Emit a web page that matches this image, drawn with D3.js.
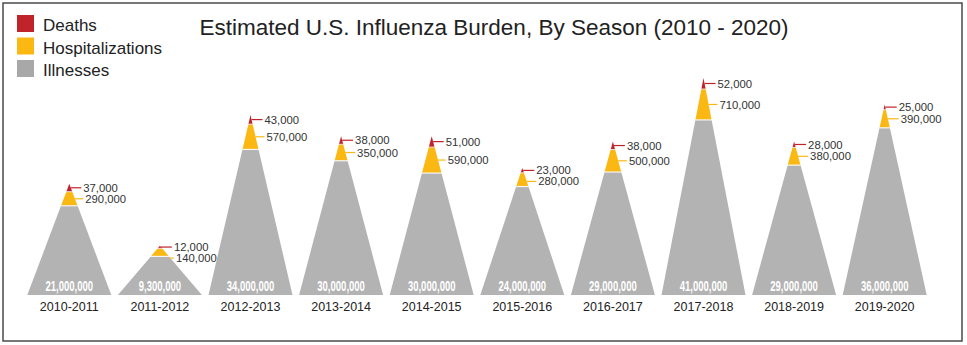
<!DOCTYPE html>
<html>
<head>
<meta charset="utf-8">
<script src="https://cdn.jsdelivr.net/npm/d3@7"></script>
<style>
  html, body { margin: 0; padding: 0; background: #fff; }
  svg { display: block; }
</style>
</head>
<body>
<svg id="chart" width="967" height="345"></svg>
<script>
const seasons = ["2010-2011","2011-2012","2012-2013","2013-2014","2014-2015","2015-2016","2016-2017","2017-2018","2018-2019","2019-2020"];
const illnesses = [21000000, 9300000, 34000000, 30000000, 30000000, 24000000, 29000000, 41000000, 29000000, 36000000];
const hospitalizations = [290000, 140000, 570000, 350000, 590000, 280000, 500000, 710000, 380000, 390000];
const deaths = [37000, 12000, 43000, 38000, 51000, 23000, 38000, 52000, 28000, 25000];
const legendLabels = ["Deaths", "Hospitalizations", "Illnesses"];
const titleText = "Estimated U.S. Influenza Burden, By Season (2010 - 2020)";

const colors = { death: "#c1232b", hosp: "#fbb813", ill: "#b3b3b3", illLegend: "#a8a8a8" };
const svg = d3.select("#chart");
const fontMain = "'Liberation Sans', Arial, Helvetica, sans-serif";

// frame
svg.append("rect").attr("x", 3).attr("y", 3).attr("width", 959).attr("height", 338)
  .attr("fill", "none").attr("stroke", "#4a4a4a").attr("stroke-width", 1.5);

// title
svg.append("text").attr("x", 494).attr("y", 35).attr("text-anchor", "middle")
  .attr("font-family", fontMain).attr("font-size", 22.5).attr("fill", "#222")
  .text(titleText);

// legend
const legColors = [colors.death, colors.hosp, colors.illLegend];
const leg = svg.append("g");
legendLabels.forEach((l, i) => {
  leg.append("rect").attr("x", 17).attr("y", 15 + i * 22.5).attr("width", 17).attr("height", 17).attr("fill", legColors[i]);
  leg.append("text").attr("x", 43).attr("y", 31 + i * 22.5)
    .attr("font-family", fontMain).attr("font-size", 17).attr("fill", "#222").text(l);
});

const baseY = 295;
const x = d3.scaleBand().domain(seasons).range([24, 930]);
const yTotal = d3.scaleLinear().domain([0, 41000000]).range([baseY, 78]);
const hHosp = d3.scaleLinear().domain([0, 710000]).range([2.5, 30.9]);
const hDeath = d3.scaleLinear().domain([0, 52000]).range([0, 11]);
const fmt = d3.format(",");
const halfBase = 42;

const g = svg.append("g");
seasons.forEach((s, i) => {
  const cx = x(s) + x.bandwidth() / 2;
  const yA = yTotal(illnesses[i]);
  const yR = yA + hDeath(deaths[i]);
  const yY = yR + hHosp(hospitalizations[i]);
  const half = y => halfBase * (y - yA) / (baseY - yA);
  const poly = pts => pts.map(p => p.join(",")).join(" ");

  g.append("polygon").attr("points", poly([[cx - halfBase, baseY], [cx + halfBase, baseY], [cx + half(yY), yY], [cx - half(yY), yY]]))
    .attr("fill", colors.ill);
  g.append("polygon").attr("points", poly([[cx - half(yY), yY], [cx + half(yY), yY], [cx + half(yR), yR], [cx - half(yR), yR]]))
    .attr("fill", colors.hosp);
  g.append("polygon").attr("points", poly([[cx - half(yR), yR], [cx + half(yR), yR], [cx, yA]]))
    .attr("fill", colors.death);
  // separators
  g.append("line").attr("x1", cx - half(yY) - 1).attr("x2", cx + half(yY) + 1).attr("y1", yY).attr("y2", yY)
    .attr("stroke", "#f4f4f4").attr("stroke-width", 1.2);
  if (yR - yA > 1.5) {
    g.append("line").attr("x1", cx - half(yR) - 1).attr("x2", cx + half(yR) + 1).attr("y1", yR).attr("y2", yR)
      .attr("stroke", "#f4f4f4").attr("stroke-width", 0.8);
  }

  // annotations
  const dY = (yA + yR) / 2;
  const hY = Math.max((yR + yY) / 2, dY + 11);
  g.append("line").attr("x1", cx + half(dY)).attr("x2", cx + 12).attr("y1", dY).attr("y2", dY)
    .attr("stroke", colors.death).attr("stroke-width", 1.2);
  g.append("text").attr("x", cx + 14).attr("y", dY).attr("dy", "0.36em")
    .attr("font-family", fontMain).attr("font-size", 11.3).attr("fill", "#333").text(fmt(deaths[i]));
  const hx = Math.min(cx + half(Math.min(hY, yY)), cx + 13);
  g.append("line").attr("x1", hx).attr("x2", cx + 14).attr("y1", hY).attr("y2", hY)
    .attr("stroke", colors.hosp).attr("stroke-width", 1.2);
  g.append("text").attr("x", cx + 16).attr("y", hY).attr("dy", "0.36em")
    .attr("font-family", fontMain).attr("font-size", 11.3).attr("fill", "#333").text(fmt(hospitalizations[i]));

  // illness value (condensed bold)
  g.append("text").attr("transform", `translate(${cx},291) scale(0.68,1)`)
    .attr("text-anchor", "middle")
    .attr("font-family", fontMain)
    .attr("font-weight", "bold").attr("font-size", 14).attr("fill", "#fff")
    .text(fmt(illnesses[i]));

  // season label
  g.append("text").attr("x", cx).attr("y", 311).attr("text-anchor", "middle")
    .attr("font-family", fontMain).attr("font-size", 12.5).attr("fill", "#222").text(s);
});
</script>
</body>
</html>
